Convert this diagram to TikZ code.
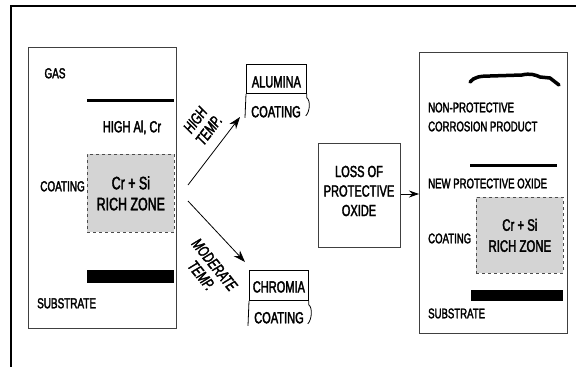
\documentclass[tikz,border=0pt]{standalone}
\usepackage{fontspec}
\setmainfont[FakeStretch=0.69,FakeBold=2.2]{Liberation Sans}
\usetikzlibrary{arrows.meta}
\tikzset{
	lbl/.style={inner sep=0pt, font=\fontsize{#1}{19.5}\selectfont, text height=10.5pt, text depth=0pt},
	lbl/.default=14.4,
	bloc/.style={inner sep=0pt, align=center, font=\fontsize{16}{19.5}\selectfont},
	panell/.style={draw=black!75, line width=0.8pt, inner sep=0pt, anchor=north west},
	zona/.style={draw=black!70, dashed, fill=black!17, line width=0.7pt, inner sep=0pt, anchor=north west,
		align=center, font=\fontsize{#1}{21}\selectfont},
	capa/.style={line width=3pt},
	fletxa/.style={-{Stealth[length=#1,width=0.7*#1]}, line width=0.8pt},
	fletxa/.default=12pt,
	oxid/.style={draw, line width=0.8pt, inner xsep=0pt, inner ysep=0pt, anchor=north west,
		font=\fontsize{16}{19.5}\selectfont},
	temp/.style={align=center, inner sep=0pt, font=\itshape\fontsize{16}{17}\selectfont}
}
\begin{document}
\begin{tikzpicture}[x=1pt,y=-1pt]
	\useasboundingbox (0,0) rectangle (576,367);
	% Marc
	\draw[line width=1.6pt] (11,367) -- (11,6) -- (576,6);

	% Panell esquerre
	\node[panell, minimum width=148pt, minimum height=281pt] (esq) at (28,47) {};
	\node[lbl] (gas) at (55,73) {GAS};
	\draw[capa] (87,100) -- (174,100);
	\node[lbl=16] (alt) at (132,127) {HIGH Al, Cr};
	\node[zona=18, minimum width=87pt, minimum height=78pt] (zonaA) at (87,154) {Cr + Si\\RICH ZONE};
	\node[lbl, anchor=east] (recA) at (85,186) {COATING};
	\fill (87,270) rectangle (174,283);
	\node[lbl, anchor=west] (subA) at (37,303) {SUBSTRATE};

	% Bifurcacio
	\coordinate (forkA) at (188,185);
	\coordinate (forkB) at (188,201);
	\coordinate (fiA) at (240,117);
	\coordinate (fiB) at (245,262);
	\draw[fletxa] (forkA) -- (fiA);
	\draw[fletxa] (forkB) -- (fiB);
	\node[temp, rotate=53] (highT) at (202,125) {HIGH\\TEMP.};
	\node[temp, rotate=-51] (modT) at (208,270) {MODERATE\\TEMP.};

	% Alumina
	\node[oxid, minimum width=60pt, text height=23pt, text depth=6pt] (alumina) at (246,64) {ALUMINA};
	\node[lbl=16] (coatA) at (276,112) {COATING};
	\draw[line width=0.8pt] (alumina.south west) -- ++(-1,24);
	\draw[line width=0.8pt] (alumina.south east) -- ++(0,4) .. controls +(4,3) and +(4,-4) .. ++(-1,18);

	% Chromia
	\node[oxid, minimum width=59pt, text height=22pt, text depth=8pt] (chromia) at (249,270) {CHROMIA};
	\node[lbl=16] (coatB) at (279,318) {COATING};
	\draw[line width=0.8pt] (chromia.south west) -- ++(-1,25);
	\draw[line width=0.8pt] (chromia.south east) -- ++(0,4) .. controls +(4,3) and +(4,-4) .. ++(-1,19);

	% Perdua d'oxid
	\node[panell, minimum width=82pt, minimum height=104pt] (caixa) at (318,143) {};
	\node[bloc] (perdua) at (359,191) {LOSS OF\\PROTECTIVE\\OXIDE};

	% Panell dret
	\node[panell, minimum width=148pt, minimum height=281pt] (dreta) at (419,52) {};
	\draw[fletxa=10pt] (caixa.east |- 0,194) -- (dreta.west |- 0,194);
	\draw[line width=3.5pt, line cap=round, line join=round]
		(470,82) .. controls (474,77) and (480,76) .. (490,76) -- (522,75)
		.. controls (530,73) and (536,75) .. (540,77) -- (550,78) -- (559,85);
	\node[lbl=13.9, anchor=west] (nonp) at (428,107) {NON-PROTECTIVE};
	\node[lbl=13.9, anchor=west] (corr) at (428,126) {CORROSION PRODUCT};
	\draw[capa] (470,165) -- (557,165);
	\node[lbl=13.9, anchor=west] (nou) at (428,183) {NEW PROTECTIVE OXIDE};
	\node[zona=16.5, minimum width=87pt, minimum height=76pt] (zonaB) at (476,197) {Cr + Si\\RICH ZONE};
	\node[lbl=13.9, anchor=west] (recB) at (428,238) {COATING};
	\fill (471,290) rectangle (563,301);
	\node[lbl=13.9, anchor=west] (subB) at (428,313) {SUBSTRATE};
\end{tikzpicture}
\end{document}
